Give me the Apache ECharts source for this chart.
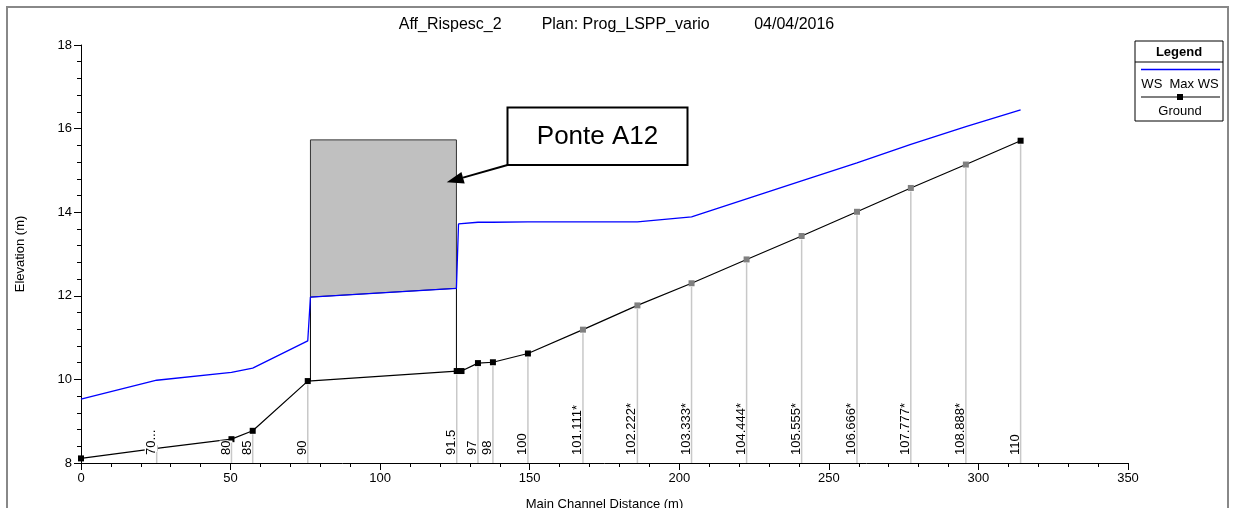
<!DOCTYPE html>
<html>
<head>
<meta charset="utf-8">
<script src="https://cdn.jsdelivr.net/npm/echarts@6/dist/echarts.min.js"></script>
<style>
  html, body { margin: 0; padding: 0; background: #fff; }
  #chart { width: 1233px; height: 508px; }
</style>
</head>
<body>
<div id="chart"></div>
<script>
// River stations along the main channel (distance in m, bed elevation in m)
const stationDist  = [0, 25.3, 50.3, 57.4, 75.8, 125.6, 127.2, 132.7, 137.7, 149.4, 167.8, 186.0, 204.1, 222.5, 240.9, 259.4, 277.4, 295.8, 314.1];
const stationLabel = ['', '70...', '80', '85', '90', '91.5', '', '97', '98', '100', '101.111*', '102.222*', '103.333*', '104.444*', '105.555*', '106.666*', '107.777*', '108.888*', '110'];
const groundElev   = [8.11, 8.35, 8.57, 8.77, 9.96, 10.20, 10.20, 10.39, 10.41, 10.62, 11.19, 11.77, 12.30, 12.87, 13.43, 14.01, 14.58, 15.14, 15.71];

// Maximum water surface profile
const wsDist = [0, 25.3, 50.3, 57.4, 75.8, 76.7, 125.5, 126.2, 132.7, 137.7, 149.4, 167.8, 186.0, 204.1, 222.5, 240.9, 259.4, 277.4, 295.8, 314.1];
const wsElev = [9.53, 9.98, 10.17, 10.27, 10.92, 11.97, 12.18, 13.72, 13.76, 13.76, 13.77, 13.77, 13.77, 13.89, 14.32, 14.75, 15.18, 15.62, 16.05, 16.45];

// Bridge deck: upstream / downstream faces, top of deck and low chord
const bridgeDist     = [76.7, 125.5];
const bridgeDeck     = [15.73, 15.73];
const bridgeLowChord = [11.97, 12.18];

const FONT = '"Liberation Sans", Arial, sans-serif';
const Y_MIN = 8;

const chart = echarts.init(document.getElementById('chart'), null, { renderer: 'canvas' });

const groundData = stationDist.map((d, i) => {
  const item = { value: [d, groundElev[i]] };
  if (stationLabel[i].endsWith('*')) {
    item.itemStyle = { color: '#808080' };
  }
  if (stationLabel[i].endsWith('...')) {
    item.symbol = 'rect';
    item.symbolSize = [2, 6];
  }
  return item;
});

const labelData = [];
stationDist.forEach((d, i) => {
  if (stationLabel[i]) labelData.push([d, groundElev[i], stationLabel[i]]);
});

// callout arrow geometry
const boxX = 507.5, boxY = 107.5, boxW = 180, boxH = 57.5;
const tip = [446.7, 182.3];
const tail = [boxX, boxY + boxH];
const dx = tip[0] - tail[0], dy = tip[1] - tail[1];
const len = Math.sqrt(dx * dx + dy * dy);
const ux = dx / len, uy = dy / len;
const headLen = 17, headHalf = 6;
const base = [tip[0] - ux * headLen, tip[1] - uy * headLen];
const head = [
  tip,
  [base[0] + uy * headHalf, base[1] - ux * headHalf],
  [base[0] - uy * headHalf, base[1] + ux * headHalf]
];

const option = {
  animation: false,
  backgroundColor: '#fff',
  textStyle: { fontFamily: FONT },
  title: {
    text: 'Aff_Rispesc_2         Plan: Prog_LSPP_vario          04/04/2016',
    left: 'center',
    top: 12,
    textStyle: { fontSize: 16, fontWeight: 'normal', color: '#000', fontFamily: FONT }
  },
  grid: { left: 81, right: 105, top: 45, bottom: 45, containLabel: false, outerBoundsMode: 'none' },
  xAxis: {
    type: 'value', min: 0, max: 350, interval: 50,
    name: 'Main Channel Distance (m)', nameLocation: 'middle', nameGap: 35,
    nameTextStyle: { fontSize: 13, color: '#000', fontFamily: FONT },
    axisLine: { onZero: false, lineStyle: { color: '#000', width: 1 } },
    axisTick: { show: true, length: 7, lineStyle: { color: '#000' } },
    minorTick: { show: true, splitNumber: 5, length: 4, lineStyle: { color: '#000' } },
    splitLine: { show: false },
    axisLabel: { fontSize: 13, color: '#000', margin: 9, fontFamily: FONT, showMaxLabel: true, showMinLabel: true }
  },
  yAxis: {
    type: 'value', min: 8, max: 18, interval: 2,
    name: 'Elevation (m)', nameLocation: 'middle', nameGap: 54, nameRotate: 90,
    nameTextStyle: { fontSize: 13, color: '#000', fontFamily: FONT },
    axisLine: { show: true, onZero: false, lineStyle: { color: '#000', width: 1 } },
    axisTick: { show: true, length: 7, lineStyle: { color: '#000' } },
    minorTick: { show: true, splitNumber: 5, length: 4, lineStyle: { color: '#000' } },
    splitLine: { show: false },
    axisLabel: { fontSize: 13, color: '#000', margin: 9, fontFamily: FONT }
  },
  series: [
    {
      // bridge deck and abutments
      name: 'Bridge', type: 'custom', z: 1, silent: true,
      data: [[bridgeDist[0], bridgeDeck[0]]],
      renderItem: function (params, api) {
        const tl = api.coord([bridgeDist[0], bridgeDeck[0]]);
        const tr = api.coord([bridgeDist[1], bridgeDeck[1]]);
        const br = api.coord([bridgeDist[1], bridgeLowChord[1]]);
        const bl = api.coord([bridgeDist[0], bridgeLowChord[0]]);
        const gl = api.coord([bridgeDist[0], groundElev[4]]);
        const gr = api.coord([bridgeDist[1], groundElev[5]]);
        return {
          type: 'group',
          children: [
            { type: 'polygon', shape: { points: [tl, tr, br, bl] },
              style: { fill: '#c0c0c0', stroke: '#333', lineWidth: 1 } },
            { type: 'line', shape: { x1: bl[0], y1: bl[1], x2: gl[0], y2: gl[1] },
              style: { stroke: '#000', lineWidth: 1 } },
            { type: 'line', shape: { x1: br[0], y1: br[1], x2: gr[0], y2: gr[1] },
              style: { stroke: '#000', lineWidth: 1 } }
          ]
        };
      }
    },
    {
      name: 'WS  Max WS', type: 'line', z: 4, silent: true,
      data: wsDist.map((d, i) => [d, wsElev[i]]),
      showSymbol: false, symbol: 'none',
      lineStyle: { color: '#0000ff', width: 1.3 }
    },
    {
      name: 'Ground', type: 'line', z: 2, silent: true,
      data: groundData,
      symbol: 'rect', symbolSize: 6,
      itemStyle: { color: '#000' },
      lineStyle: { color: '#000', width: 1.2 }
    },
    {
      // river station labels
      name: 'Station labels', type: 'custom', z: 3, silent: true,
      data: labelData,
      renderItem: function (params, api) {
        const p = api.coord([api.value(0), Y_MIN]);
        return {
          type: 'text',
          x: p[0] + 1, y: p[1] - 8,
          rotation: Math.PI / 2,
          style: {
            text: labelData[params.dataIndex][2],
            x: 0, y: 0,
            fill: '#000',
            font: '13px ' + FONT,
            align: 'left', verticalAlign: 'bottom',
            backgroundColor: '#fff'
          }
        };
      }
    },
    {
      // drop lines from each station down to the axis
      name: 'Station lines', type: 'custom', z: 5, silent: true,
      data: labelData,
      renderItem: function (params, api) {
        const top = api.coord([api.value(0), api.value(1)]);
        const bot = api.coord([api.value(0), Y_MIN]);
        return {
          type: 'line',
          shape: { x1: top[0], y1: top[1] + 3.5, x2: bot[0], y2: bot[1] },
          style: { stroke: '#c8c8c8', lineWidth: 1.5 }
        };
      }
    }
  ],
  graphic: [
    // outer frame
    { type: 'rect', shape: { x: 7, y: 7, width: 1221, height: 520 },
      style: { fill: 'none', stroke: '#888', lineWidth: 2 }, z: 100, silent: true },
    // callout
    { type: 'line', shape: { x1: tail[0], y1: tail[1], x2: base[0], y2: base[1] },
      style: { stroke: '#000', lineWidth: 2 }, z: 100 },
    { type: 'polygon', shape: { points: head }, style: { fill: '#000' }, z: 100 },
    { type: 'rect', shape: { x: boxX, y: boxY, width: boxW, height: boxH },
      style: { fill: '#fff', stroke: '#000', lineWidth: 2 }, z: 100 },
    { type: 'text', x: boxX + boxW / 2, y: boxY + boxH / 2 + 1, z: 101,
      style: { text: 'Ponte A12', font: '26px ' + FONT, fill: '#000', align: 'center', verticalAlign: 'middle' } },
    // legend box
    { type: 'rect', shape: { x: 1135, y: 41, width: 88, height: 80 },
      style: { fill: '#fff', stroke: '#000', lineWidth: 1 }, z: 100 },
    { type: 'line', shape: { x1: 1135, y1: 62, x2: 1223, y2: 62 },
      style: { stroke: '#000', lineWidth: 1 }, z: 101 },
    { type: 'text', x: 1179, y: 52, z: 101,
      style: { text: 'Legend', font: 'bold 13px ' + FONT, fill: '#000', align: 'center', verticalAlign: 'middle' } },
    { type: 'line', shape: { x1: 1141, y1: 69.5, x2: 1220, y2: 69.5 },
      style: { stroke: '#0000ff', lineWidth: 1.3 }, z: 101 },
    { type: 'text', x: 1180, y: 84, z: 101,
      style: { text: 'WS  Max WS', font: '13px ' + FONT, fill: '#000', align: 'center', verticalAlign: 'middle' } },
    { type: 'line', shape: { x1: 1141, y1: 97, x2: 1220, y2: 97 },
      style: { stroke: '#000', lineWidth: 1.2 }, z: 101 },
    { type: 'rect', shape: { x: 1177, y: 94, width: 6, height: 6 },
      style: { fill: '#000' }, z: 102 },
    { type: 'text', x: 1180, y: 111, z: 101,
      style: { text: 'Ground', font: '13px ' + FONT, fill: '#000', align: 'center', verticalAlign: 'middle' } }
  ]
};

chart.setOption(option);
</script>
</body>
</html>
